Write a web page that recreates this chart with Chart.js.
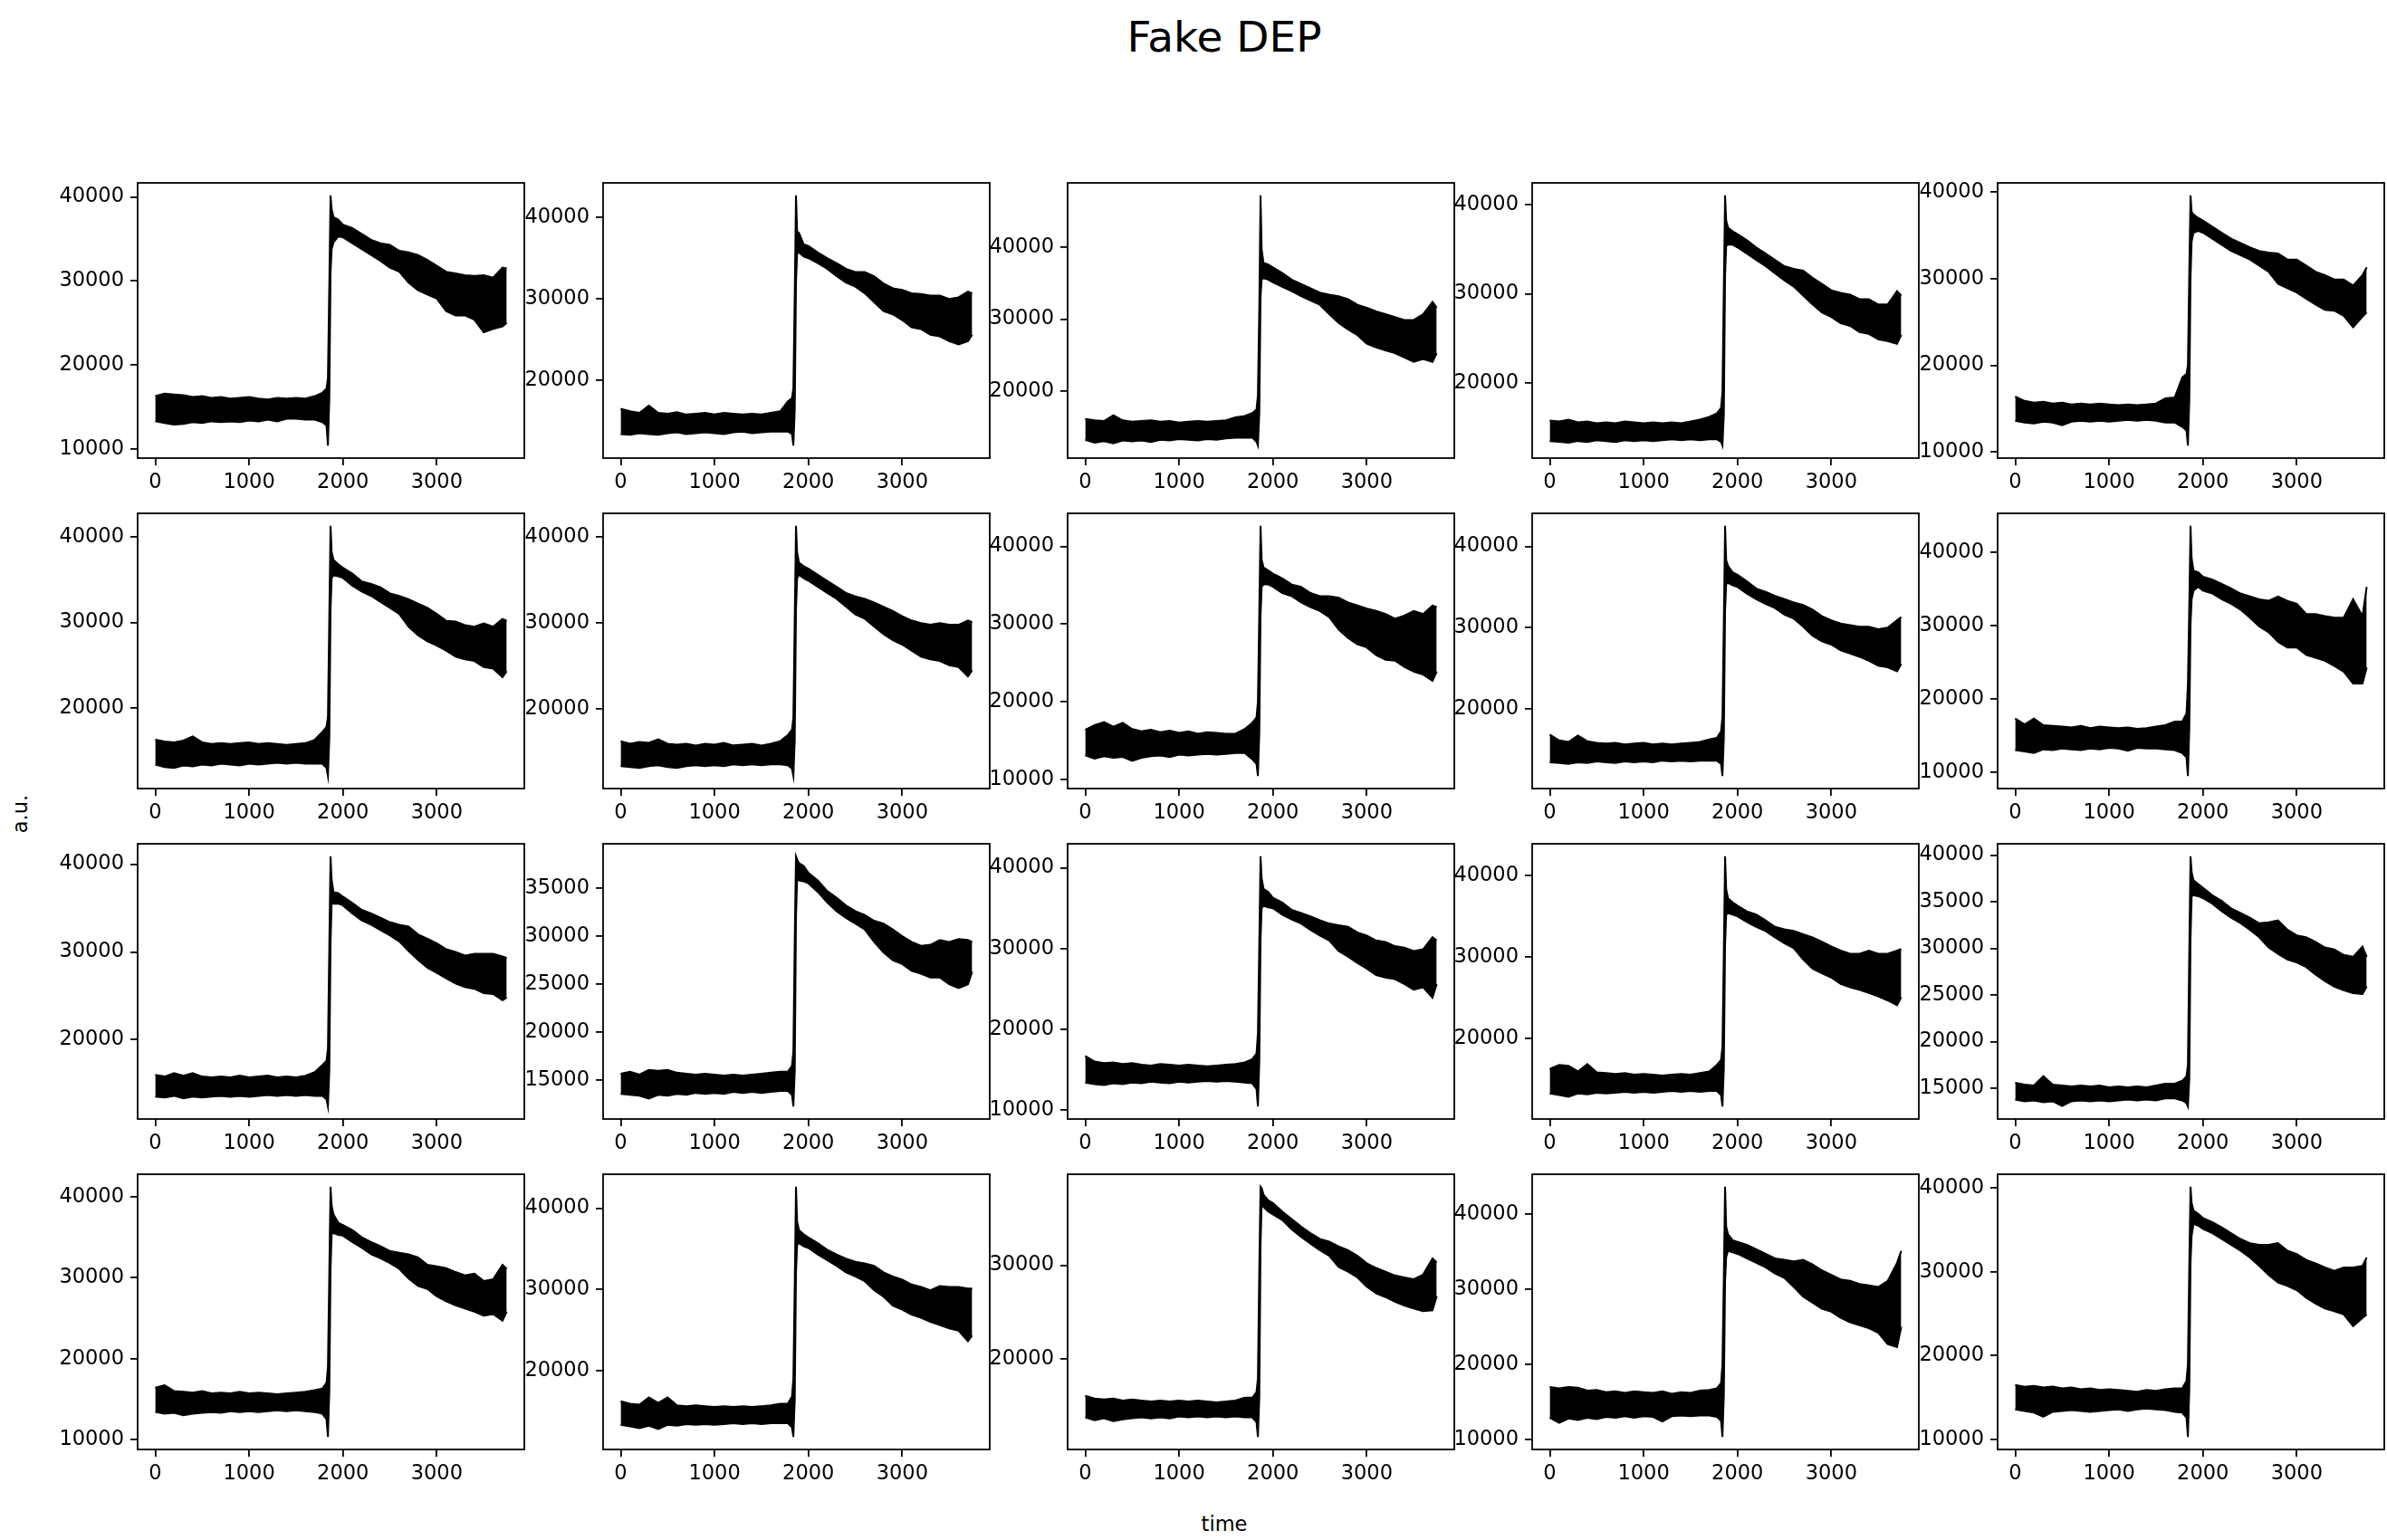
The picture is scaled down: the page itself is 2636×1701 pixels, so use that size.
<!DOCTYPE html>
<html>
<head>
<meta charset="utf-8">
<title>Fake DEP</title>
<script src="https://cdn.jsdelivr.net/npm/chart.js@4.4.1/dist/chart.umd.min.js"></script>
<style>
  html, body { margin: 0; padding: 0; background: #fff; }
  body { position: relative; width: 2636px; height: 1701px; overflow: hidden;
         font-family: "DejaVu Sans", sans-serif; color: #000; }
  canvas { position: absolute; }
  .lbl { position: absolute; white-space: nowrap; transform: translate(-50%, -50%); }
  #title { left: 1352px; top: 40px; font-size: 47px; }
  #xlab  { left: 1352px; top: 1683px; font-size: 22.5px; }
  #ylab  { left: 22px; top: 899px; font-size: 22.5px; transform: translate(-50%, -50%) rotate(-90deg); }
</style>
</head>
<body>
<div id="title" class="lbl">Fake DEP</div>
<div id="xlab" class="lbl">time</div>
<div id="ylab" class="lbl">a.u.</div>
<script>
// sample times shared by every trace (upper / lower envelope of the signal)
const time = [0,100,200,300,400,500,600,700,800,900,1000,1100,1200,1300,1400,1500,1600,1700,
  1780,1825,1840,1855,1868,1880,1900,1950,
  2000,2100,2200,2300,2400,2500,2600,2700,2800,2900,3000,3100,3200,3300,3400,3500,3600,3700,3745];

const xTicks = [0, 1000, 2000, 3000];

// y tick spacing for each panel, row by row
const yStep = [10000,10000,10000,10000,10000,
               10000,10000,10000,10000,10000,
               10000, 5000,10000,10000, 5000,
               10000,10000,10000,10000,10000];

// row 1
const p01Hi = [16300,16600,16500,16400,16200,16300,16100,16200,16000,16100,16200,16000,15900,16100,16000,16100,16000,16300,16700,17200,18500,30000,40190,38500,37600,37300,36700,36300,35600,34900,34500,34300,33600,33400,33100,32500,31800,31100,30900,30700,30600,30700,30400,31600,31500];
const p01Lo = [13300,13100,12900,13000,13200,13100,13300,13200,13300,13200,13400,13300,13500,13300,13600,13600,13500,13500,13200,12800,10413,16000,31000,33800,34600,35300,35200,34500,33800,33100,32400,31600,31100,29800,28900,28400,27900,26400,25900,25900,25400,23900,24300,24600,25000];
const p02Hi = [16500,16200,16000,16900,16000,15900,16100,15800,15900,16000,15800,16000,15900,15800,15900,15800,16000,16200,17400,17800,19000,31000,42719,38300,38100,36700,36500,35700,35000,34400,33700,33300,33300,32800,31900,31300,31100,30700,30600,30400,30400,30000,30200,30900,30700];
const p02Lo = [13400,13300,13500,13400,13300,13500,13600,13400,13500,13600,13500,13400,13600,13700,13500,13600,13700,13700,13700,13400,11981,16500,32000,35600,35700,35200,35000,34400,33700,32800,32000,31500,30700,29600,28500,28100,27400,26500,26300,25600,25400,24800,24400,24800,25600];
const p03Hi = [16200,16000,15900,16700,16000,15800,15900,16000,15800,15900,15700,15800,15900,15800,15900,16000,16400,16600,17000,17500,19500,32000,47164,39700,37800,37600,37200,36400,35500,34900,34300,33700,33400,33200,32800,32000,31600,31100,30700,30300,29900,29900,30700,32400,31600];
const p03Lo = [13300,12900,13100,12800,13200,13100,13200,13000,13300,13200,13400,13300,13200,13400,13300,13500,13600,13600,13600,13000,12497,17000,33000,35500,35700,35500,35100,34500,33900,33200,32600,32000,30700,29500,28600,27800,26600,26100,25700,25300,24700,24100,24500,24100,25300];
const p04Hi = [15800,15700,15900,15600,15700,15500,15600,15500,15700,15600,15500,15600,15500,15600,15500,15700,15900,16200,16600,17200,19000,31000,41031,38200,37400,37000,36700,36000,35200,34500,33800,33100,32800,32600,31800,31100,30400,30100,29900,29400,29400,28800,28800,30300,29800];
const p04Lo = [13500,13400,13300,13500,13400,13600,13500,13400,13600,13500,13600,13500,13600,13700,13600,13700,13600,13700,13700,13400,12988,16500,32000,35400,35500,35500,35200,34500,33800,33100,32300,31500,30800,29800,28800,27900,27400,26700,26400,25700,25500,24900,24700,24400,25400];
const p05Hi = [16400,15900,15700,15800,15600,15700,15500,15600,15500,15600,15500,15400,15500,15400,15500,15600,16200,16300,18600,19000,20000,31000,39600,37700,37400,37000,36700,36000,35300,34600,34100,33600,33200,33000,32900,32200,32200,31500,30800,30400,29900,29900,29200,30400,31300];
const p05Lo = [13600,13400,13300,13500,13400,13100,13500,13600,13500,13600,13500,13600,13700,13600,13700,13600,13400,13400,12900,12500,10744,16000,30000,34300,35300,35500,35300,34600,33900,33200,32700,32200,31500,30800,29400,28900,28400,27700,27000,26400,26300,25700,24400,25600,26100];
// row 2
const p06Hi = [16300,16100,16000,16200,16700,16000,15800,15900,15800,15900,16000,15800,15900,15800,15700,15800,15900,16300,17200,17800,19000,31000,41286,38200,37300,36800,36400,35700,34800,34500,34100,33400,33100,32700,32200,31700,31000,30200,30100,29700,29500,29900,29500,30400,30200];
const p06Lo = [13400,13100,13000,13300,13200,13400,13300,13500,13400,13300,13500,13400,13500,13600,13500,13600,13500,13500,13500,13000,12058,16500,31500,35200,35500,35400,35200,34300,33600,33100,32400,31700,31000,29500,28500,27800,27300,26700,26000,25700,25500,24800,24600,23600,24300];
const p07Hi = [16300,16000,16200,16100,16500,16000,15900,16000,15800,16000,15900,16100,15800,15900,16000,15800,16000,16300,17000,17600,19000,31000,41277,38200,37000,36600,36300,35600,34900,34200,33500,33100,32800,32400,31900,31400,30800,30300,30000,29800,30000,29800,29800,30300,30100];
const p07Lo = [13400,13300,13200,13400,13500,13300,13200,13400,13500,13400,13500,13400,13600,13500,13600,13500,13600,13600,13500,13100,12248,16500,31500,35200,35600,35200,34900,34200,33500,32800,31900,31000,30500,29600,28700,28000,27500,26800,26100,25800,25600,25100,24900,23800,24500];
const p08Hi = [16400,17000,17400,16800,17300,16500,16200,16400,16100,16300,16000,16200,15900,16100,16000,15900,15900,16500,17300,18000,20000,32000,42651,38300,37300,36900,36500,35900,35100,34800,34000,33600,33600,33400,32800,32400,32000,31700,31300,30700,31100,31700,31300,32400,32200];
const p08Lo = [13100,12700,13000,12800,12900,12400,12800,13000,13100,12900,13200,13100,13200,13300,13200,13300,13400,13400,12600,12000,10446,16000,31000,34800,35100,35100,34800,34000,33600,32800,32200,31700,30900,29300,28200,27400,27000,26000,25400,25300,24500,23900,23500,22700,23900];
const p09Hi = [16800,16100,15900,16700,16000,15800,15700,15800,15600,15700,15800,15600,15700,15600,15700,15800,15900,16200,16400,17200,19000,31000,42538,38300,37600,36800,36500,35700,34800,34400,33900,33500,33100,32800,32200,31400,30900,30500,30300,30100,30100,29800,30000,30900,31300];
const p09Lo = [13400,13300,13200,13400,13300,13500,13400,13300,13500,13400,13500,13400,13600,13500,13600,13500,13600,13600,13600,13200,11698,16500,32000,35400,35500,35200,35000,34200,33500,32900,32400,31600,31100,30100,29000,28300,27900,27200,26800,26400,25900,25300,25100,24600,25500];
const p10Hi = [17300,16500,17300,16400,16300,16200,16100,16300,16000,16200,16100,16000,16100,15900,16000,16200,16400,16900,16900,18000,22000,33000,43642,39200,37500,37300,36700,36300,35700,35100,34400,34000,33600,33400,34000,33400,33000,31600,31600,31300,31100,31100,33600,31300,35300];
const p10Lo = [13000,12800,12600,13100,13000,13200,13100,13000,13200,13100,13300,13200,12900,13300,13200,13200,13100,13000,12600,12000,9448,16000,30000,33600,34800,35300,34800,34400,33600,33000,32200,31100,29900,29100,27800,27000,27000,26000,25600,25200,24500,23700,22100,22100,24300];
// row 3
const p11Hi = [16000,15800,16200,15900,16200,15800,15700,15800,15700,15900,15700,15800,15900,15700,15800,15700,15900,16300,17100,17600,19000,31000,40904,38200,36800,36700,36300,35600,34800,34400,33900,33400,33100,32900,32000,31500,31000,30300,30000,29600,29800,29800,29800,29500,29300];
const p11Lo = [13500,13400,13600,13300,13500,13400,13500,13600,13500,13600,13500,13600,13700,13600,13700,13600,13700,13600,13600,13200,12385,16500,31000,35600,35500,35500,35300,34400,33600,33100,32500,31900,31200,30100,29100,28200,27600,27000,26400,26000,25800,25300,25200,24500,24800];
const p12Hi = [15700,15900,15600,16100,16000,16100,15800,15700,15600,15700,15600,15500,15600,15500,15600,15700,15800,15900,15900,16500,18000,30000,38309,38000,37600,37300,36600,35800,34700,34000,33200,32600,32200,31600,31300,30700,30000,29400,29000,29100,29600,29400,29700,29600,29400];
const p12Lo = [13600,13500,13400,13100,13500,13400,13600,13500,13700,13600,13700,13600,13800,13700,13800,13700,13800,13900,13900,13500,12284,16000,32000,36000,35800,35700,35500,34600,33500,32600,31900,31300,30700,29400,28300,27500,27100,26400,26100,25700,25700,25000,24600,25000,26300];
const p13Hi = [16700,16000,15800,15900,15700,15800,15600,15500,15700,15600,15500,15600,15500,15400,15500,15600,15700,15900,16300,17000,19500,31000,41431,38700,37400,37000,36300,35700,34800,34400,34000,33500,33100,32900,32700,32000,31600,31000,30800,30300,30100,29700,29900,31400,31000];
const p13Lo = [13400,13200,13100,13300,13200,13400,13300,13500,13400,13300,13500,13400,13500,13600,13500,13600,13500,13400,13300,12600,10429,16000,31000,35000,35300,35100,35000,34200,33600,33100,32300,31600,31000,29700,29000,28200,27500,26700,26400,26200,25600,24900,25200,23900,25600];
const p14Hi = [16300,16800,16700,16000,16900,15900,15800,15700,15800,15600,15700,15600,15500,15600,15700,15600,15800,16000,16800,17400,19000,31000,42344,38300,37200,36700,36300,35600,35200,34500,33700,33400,33200,32800,32400,31900,31300,30800,30400,30400,30800,30400,30400,30800,31000];
const p14Lo = [13300,13100,12900,13300,13200,13400,13300,13400,13500,13400,13500,13400,13500,13600,13500,13600,13500,13600,13600,13100,11709,16500,31500,35200,35400,35200,35000,34300,33700,33200,32400,31700,31100,29700,28600,28000,27500,26700,26300,26000,25600,25200,24700,24100,25100];
const p15Hi = [15600,15400,15300,16300,15400,15300,15200,15300,15200,15300,15100,15200,15100,15200,15100,15300,15500,15500,15800,16300,17500,30000,39880,38200,37300,36900,36500,35700,35100,34300,33800,33300,32700,32800,33000,32000,31400,31200,30700,30100,29900,29300,29100,30200,29100];
const p15Lo = [13800,13600,13700,13500,13600,13100,13600,13700,13600,13700,13600,13700,13800,13700,13800,13700,13900,13900,13700,13400,13044,16000,31000,35600,35700,35600,35400,34800,34000,33300,32700,32000,31200,30100,29400,28800,28500,28000,27200,26500,25900,25500,25200,25100,25900];
// row 4
const p16Hi = [16400,16700,16000,15900,15800,16000,15700,15800,15700,15900,15700,15800,15700,15600,15700,15800,15900,16100,16300,17000,19000,31000,41248,38900,37800,36800,36500,35900,35000,34400,33900,33300,33100,32900,32500,31600,31400,31200,30700,30300,30500,29600,29800,31600,31100];
const p16Lo = [13400,13200,13300,13000,13200,13300,13400,13300,13500,13400,13500,13400,13500,13600,13500,13600,13500,13400,13200,12500,10317,16000,31000,35500,35500,35300,35200,34400,33700,32900,32400,31800,31100,29900,29000,28600,27700,27100,26600,26200,25800,25300,25500,24700,25800];
const p17Hi = [16200,15900,15800,16700,16000,16700,15700,15600,15700,15600,15500,15600,15500,15600,15500,15600,15700,15900,15900,16800,19000,31000,42650,38400,37300,36800,36400,35700,34900,34300,33800,33400,33200,32900,32100,31600,31200,30600,30300,29900,30400,30300,30300,30100,30100];
const p17Lo = [13300,13100,12900,13200,12800,13300,13200,13400,13300,13400,13300,13400,13500,13400,13500,13400,13500,13500,13500,13000,11810,16500,32000,35500,35700,35300,35100,34300,33600,32900,32100,31600,31000,29900,29100,28000,27500,26900,26500,26000,25600,25200,24900,23600,24300];
const p18Hi = [16100,15800,15700,15800,15600,15700,15600,15500,15600,15500,15600,15500,15600,15500,15400,15500,15600,15900,15900,16500,18000,30000,38344,38200,37500,36900,36600,35700,34900,34100,33400,32800,32500,32000,31600,31000,30200,29700,29300,28900,28700,28500,29000,30700,30300];
const p18Lo = [13800,13500,13700,13400,13600,13700,13800,13700,13800,13700,13900,13800,13900,13800,13900,13800,13900,13800,13800,13300,11720,16000,32000,36600,36200,35700,35400,34800,33800,33000,32300,31600,31000,29800,29300,28700,27700,27000,26600,26100,25700,25400,25100,25200,26700];
const p19Hi = [17000,16800,17000,16900,16500,16600,16300,16400,16200,16400,16300,16200,16400,16100,16300,16200,16500,16600,16800,17500,20000,32000,43631,38300,37300,36500,36300,35900,35300,34700,34100,33900,33700,33900,33300,32500,31900,31300,31100,30700,30500,30300,31100,33500,35100];
const p19Lo = [12900,12200,12800,12600,12900,12700,13000,12900,13100,12900,13100,13000,12400,13100,13200,13100,13200,13200,13000,12500,10340,16000,31000,34300,35100,34900,34700,34100,33500,32900,32100,31500,30300,29000,28200,27400,27000,26200,25600,25200,24800,24200,22700,22300,25000];
const p20Hi = [16500,16300,16400,16200,16300,16100,16200,16000,16100,15900,16000,15900,15800,15700,15900,15800,16000,16100,16100,17000,19000,31000,40126,38200,37300,36900,36400,35900,35300,34600,33900,33400,33200,33200,33400,32500,32100,31400,31000,30500,30100,30500,30500,30700,31700];
const p20Lo = [13600,13400,13200,12700,13300,13400,13500,13400,13300,13400,13500,13600,13400,13600,13700,13600,13500,13300,13200,12600,10305,16000,31000,34300,35700,35500,35100,34600,33900,33200,32500,31700,30700,29600,28700,28300,27800,26900,26200,25600,25300,24900,23500,24500,24900];

const traces = [
  [p01Lo, p01Hi], [p02Lo, p02Hi], [p03Lo, p03Hi], [p04Lo, p04Hi], [p05Lo, p05Hi],
  [p06Lo, p06Hi], [p07Lo, p07Hi], [p08Lo, p08Hi], [p09Lo, p09Hi], [p10Lo, p10Hi],
  [p11Lo, p11Hi], [p12Lo, p12Hi], [p13Lo, p13Hi], [p14Lo, p14Hi], [p15Lo, p15Hi],
  [p16Lo, p16Hi], [p17Lo, p17Hi], [p18Lo, p18Hi], [p19Lo, p19Hi], [p20Lo, p20Hi]
];

// grid geometry (px)
const GRID_X = 152.3, GRID_DX = 513.4, GRID_Y = 201.7, GRID_DY = 365;
const PANEL_W = 427, PANEL_H = 304;
const Y_AXIS_W = 110, X_AXIS_H = 56, PAD_T = 24, PAD_R = 6;

const tickFont = { family: "DejaVu Sans", size: 22.5 };

// matplotlib-style autoscale: data range plus 5% on each side
function margins(a, b) {
  const span = b - a;
  return [a - 0.05 * span, b + 0.05 * span];
}

const frame = {
  id: 'frame',
  afterDatasetsDraw(chart) {
    const { ctx, chartArea: a } = chart;
    ctx.save();
    ctx.strokeStyle = '#000';
    ctx.lineWidth = 1.8;
    ctx.strokeRect(a.left, a.top, a.right - a.left, a.bottom - a.top);
    ctx.restore();
  }
};

function axisGrid() {
  return { display: true, drawOnChartArea: false, drawTicks: true, tickLength: 8,
           color: '#000', lineWidth: 1.8 };
}

traces.forEach(([lo, hi], i) => {
  const row = Math.floor(i / 5), col = i % 5;
  const left = Math.round(GRID_X + GRID_DX * col);
  const top = Math.round(GRID_Y + GRID_DY * row);

  const canvas = document.createElement('canvas');
  canvas.width = PANEL_W + Y_AXIS_W + PAD_R;
  canvas.height = PANEL_H + PAD_T + X_AXIS_H;
  canvas.style.left = (left - Y_AXIS_W) + 'px';
  canvas.style.top = (top - PAD_T) + 'px';
  canvas.style.width = canvas.width + 'px';
  canvas.style.height = canvas.height + 'px';
  document.body.appendChild(canvas);

  const [xMin, xMax] = margins(Math.min(...time), Math.max(...time));
  const [yMin, yMax] = margins(Math.min(...lo), Math.max(...hi));
  const step = yStep[i];

  new Chart(canvas, {
    type: 'line',
    data: {
      datasets: [
        { data: time.map((t, k) => ({ x: t, y: lo[k] })), borderColor: '#000', borderWidth: 2,
          pointRadius: 0, tension: 0, fill: false },
        { data: time.map((t, k) => ({ x: t, y: hi[k] })), borderColor: '#000', borderWidth: 2,
          pointRadius: 0, tension: 0, fill: '-1', backgroundColor: '#000' }
      ]
    },
    options: {
      responsive: false,
      animation: false,
      devicePixelRatio: 1,
      layout: { padding: { top: PAD_T, right: PAD_R, left: 0, bottom: 0 } },
      plugins: { legend: { display: false }, tooltip: { enabled: false } },
      scales: {
        x: {
          type: 'linear', min: xMin, max: xMax,
          afterBuildTicks: s => { s.ticks = xTicks.map(v => ({ value: v })); },
          afterFit: s => { s.height = X_AXIS_H; },
          grid: axisGrid(),
          border: { display: false },
          ticks: { font: tickFont, color: '#000', padding: 6, maxRotation: 0, autoSkip: false,
                   callback: v => String(v) }
        },
        y: {
          type: 'linear', min: yMin, max: yMax,
          afterBuildTicks: s => {
            const ticks = [];
            for (let v = Math.ceil(yMin / step) * step; v <= yMax; v += step) ticks.push({ value: v });
            s.ticks = ticks;
          },
          afterFit: s => { s.width = Y_AXIS_W; },
          grid: axisGrid(),
          border: { display: false },
          ticks: { font: tickFont, color: '#000', padding: 7, autoSkip: false,
                   callback: v => String(v) }
        }
      }
    },
    plugins: [frame]
  });
});
</script>
</body>
</html>
